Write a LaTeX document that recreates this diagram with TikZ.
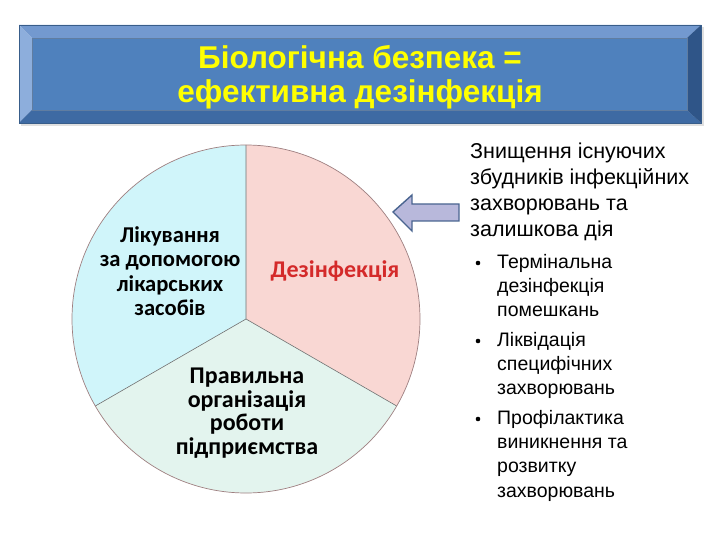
\documentclass[tikz,border=0pt]{standalone}
\usepackage{fontspec}
\setmainfont{Liberation Sans}
\newfontfamily\pief{Carlito}
\definecolor{bannerMid}{HTML}{4F81BD}
\definecolor{bannerTop}{HTML}{7399CF}
\definecolor{bannerLeft}{HTML}{8DAEDC}
\definecolor{bannerBot}{HTML}{3E6AA3}
\definecolor{bannerRight}{HTML}{2F5588}
\definecolor{bannerEdge}{HTML}{385D8A}
\definecolor{titleYellow}{HTML}{FFFF00}
\definecolor{sectRed}{HTML}{F9D7D3}
\definecolor{sectCyan}{HTML}{D0F5FA}
\definecolor{sectGreen}{HTML}{E3F4EE}
\definecolor{pieEdge}{HTML}{9E7F80}
\definecolor{divLine}{HTML}{707070}
\definecolor{dezRed}{HTML}{D42A2A}
\definecolor{arrFill}{HTML}{B8B8DB}
\definecolor{arrEdge}{HTML}{4A6590}
\tikzset{
  pielabel/.style={font=\pief\bfseries\fontsize{24}{23.5}\selectfont, align=center, text=black, inner sep=0pt},
  titletext/.style={font=\bfseries\fontsize{31.5}{34.5}\selectfont, text=titleYellow, align=center, inner sep=0pt},
  righttext/.style={font=\fontsize{21.5}{26}\selectfont, align=left, anchor=north west, inner sep=0pt},
  bullettext/.style={font=\fontsize{19.5}{24.3}\selectfont, align=left, anchor=north west, inner sep=0pt},
  bulletdot/.style={circle, fill=black, inner sep=0pt, minimum size=4.6pt}
}
\begin{document}
\begin{tikzpicture}[x=1pt,y=-1pt]
\useasboundingbox (0,0) rectangle (720,540);
% banner shadow
\fill[black!12] (21,27) rectangle (704,126);
% banner bevel
\fill[bannerTop] (19,25) -- (701,25) -- (687,38) -- (32,38) -- cycle;
\fill[bannerLeft] (19,25) -- (32,38) -- (32,110) -- (19,123) -- cycle;
\fill[bannerBot] (19,123) -- (32,110) -- (687,110) -- (701,123) -- cycle;
\fill[bannerRight] (701,25) -- (701,123) -- (687,110) -- (687,38) -- cycle;
\fill[bannerMid] (32,38) rectangle (687,110);
\draw[bannerEdge, line width=0.8pt] (19,25) rectangle (701,123);
\draw[bannerEdge!80, line width=0.5pt] (32,38) rectangle (687,110);
\node[titletext] (title) at (360,77) {Біологічна безпека =\\ефективна дезінфекція};
% pie
\begin{scope}[shift={(246,319)}, y=1pt]
  \fill[sectRed] (0,0) -- (90:174) arc[start angle=90, end angle=-30, radius=174] -- cycle;
  \fill[sectCyan] (0,0) -- (90:174) arc[start angle=90, end angle=210, radius=174] -- cycle;
  \fill[sectGreen] (0,0) -- (210:174) arc[start angle=210, end angle=330, radius=174] -- cycle;
  \coordinate (pc) at (0,0);
  \coordinate (ptop) at (90:174);
  \coordinate (pleft) at (210:174);
  \coordinate (pright) at (-30:174);
  \draw[divLine, line width=0.6pt] (pc) -- (ptop) (pc) -- (pleft) (pc) -- (pright);
  \draw[pieEdge, line width=0.7pt] (pc) circle[radius=174];
\end{scope}
\node[pielabel, font=\pief\bfseries\fontsize{22.6}{24.5}\selectfont] (lik) at (170,271) {Лікування\\за допомогою\\лікарських\\засобів};
\node[pielabel, text=dezRed] (dez) at (335,271) {Дезінфекція};
\node[pielabel] (prav) at (247,413) {Правильна\\організація\\роботи\\підприємства};
% arrow
\draw[arrEdge, fill=arrFill, line width=1.4pt, line join=miter]
  (393,212) -- (412,195) -- (412,204) -- (459,204) -- (459,221) -- (412,221) -- (412,231) -- cycle;
% right text
\node[righttext] (main) at (470,143) {Знищення існуючих\\збудників інфекційних\\захворювань та\\залишкова дія};
\node[bulletdot] (b1) at (478,263) {};
\node[bullettext] (t1) at (497,254) {Термінальна\\дезінфекція\\помешкань};
\node[bulletdot] (b2) at (478,341) {};
\node[bullettext] (t2) at (497,332) {Ліквідація\\специфічних\\захворювань};
\node[bulletdot] (b3) at (478,419) {};
\node[bullettext] (t3) at (497,410) {Профілактика\\виникнення та\\розвитку\\захворювань};
\end{tikzpicture}
\end{document}
